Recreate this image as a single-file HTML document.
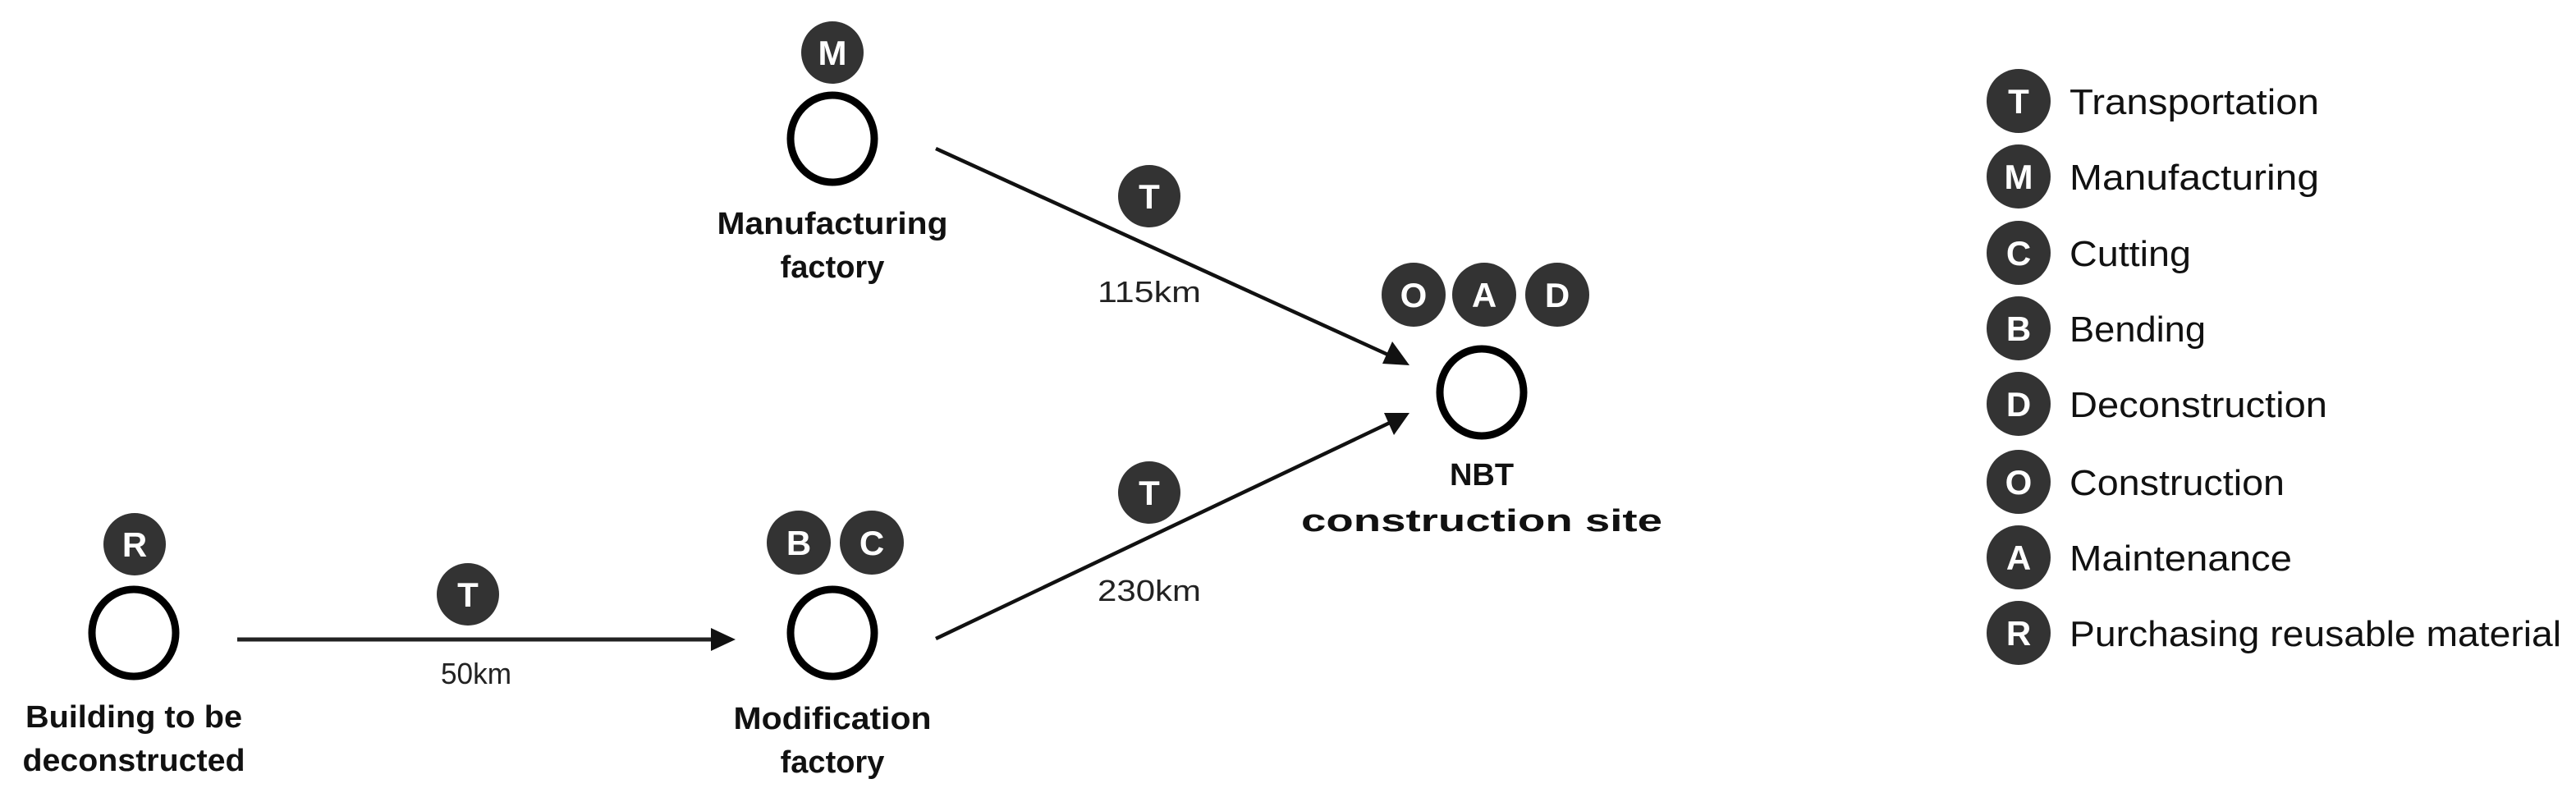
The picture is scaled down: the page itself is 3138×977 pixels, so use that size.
<!DOCTYPE html>
<html><head><meta charset="utf-8"><style>
html,body{margin:0;padding:0;background:#fff;}
svg{display:block;}
.b{fill:#333;}
.bt{fill:#fff;font-family:"Liberation Sans",sans-serif;font-weight:bold;font-size:42px;text-anchor:middle;}
.lab{font-family:"Liberation Sans",sans-serif;font-weight:bold;font-size:38px;text-anchor:middle;fill:#111;}
.km{font-family:"Liberation Sans",sans-serif;font-size:36px;text-anchor:middle;fill:#222;}
.lg{font-family:"Liberation Sans",sans-serif;font-size:44px;fill:#111;}
.node{fill:none;stroke:#000;stroke-width:9;}
</style></head><body>
<svg width="3138" height="977" viewBox="0 0 3138 977" xmlns="http://www.w3.org/2000/svg">
<!-- Building -->
<circle class="b" cx="164" cy="663" r="38"/><text class="bt" x="164" y="678">R</text>
<ellipse class="node" cx="163" cy="771" rx="51" ry="53"/>
<text class="lab" x="163" y="886" textLength="264" lengthAdjust="spacingAndGlyphs">Building to be</text>
<text class="lab" x="163" y="939" textLength="271" lengthAdjust="spacingAndGlyphs">deconstructed</text>
<!-- arrow 1 -->
<line x1="289" y1="779" x2="872" y2="779" stroke="#222" stroke-width="5"/>
<polygon points="896,779 866,765 866,793" fill="#111"/>
<circle class="b" cx="570" cy="724" r="38"/><text class="bt" x="570" y="739">T</text>
<text class="km" x="580" y="833" textLength="86" lengthAdjust="spacingAndGlyphs">50km</text>
<!-- Modification -->
<circle class="b" cx="973" cy="661" r="39"/><text class="bt" x="973" y="676">B</text>
<circle class="b" cx="1062" cy="661" r="39"/><text class="bt" x="1062" y="676">C</text>
<ellipse class="node" cx="1014" cy="771" rx="51" ry="53"/>
<text class="lab" x="1014" y="888" textLength="241" lengthAdjust="spacingAndGlyphs">Modification</text>
<text class="lab" x="1014" y="941">factory</text>
<!-- Manufacturing -->
<circle class="b" cx="1014" cy="64" r="38"/><text class="bt" x="1014" y="79">M</text>
<ellipse class="node" cx="1014" cy="169" rx="51" ry="53"/>
<text class="lab" x="1014" y="285" textLength="281" lengthAdjust="spacingAndGlyphs">Manufacturing</text>
<text class="lab" x="1014" y="338">factory</text>
<!-- arrow top -->
<line x1="1140" y1="181" x2="1695" y2="434" stroke="#111" stroke-width="4.5"/>
<polygon points="1717,445 1684,443 1696,416" fill="#111"/>
<circle class="b" cx="1400" cy="239" r="38"/><text class="bt" x="1400" y="254">T</text>
<text class="km" x="1400" y="368" textLength="126" lengthAdjust="spacingAndGlyphs">115km</text>
<!-- arrow bottom -->
<line x1="1140" y1="778" x2="1695" y2="514" stroke="#111" stroke-width="4.5"/>
<polygon points="1717,503 1698,530 1686,503" fill="#111"/>
<circle class="b" cx="1400" cy="600" r="38"/><text class="bt" x="1400" y="615">T</text>
<text class="km" x="1400" y="732" textLength="126" lengthAdjust="spacingAndGlyphs">230km</text>
<!-- NBT -->
<circle class="b" cx="1722" cy="359" r="39"/><text class="bt" x="1722" y="374">O</text>
<circle class="b" cx="1808" cy="359" r="39"/><text class="bt" x="1808" y="374">A</text>
<circle class="b" cx="1897" cy="359" r="39"/><text class="bt" x="1897" y="374">D</text>
<ellipse class="node" cx="1805" cy="478" rx="51" ry="53"/>
<text class="lab" x="1805" y="591">NBT</text>
<text class="lab" x="1805" y="647" textLength="440" lengthAdjust="spacingAndGlyphs">construction site</text>
<!-- legend -->
<g>
<circle class="b" cx="2459" cy="123" r="39"/><text class="bt" x="2459" y="138">T</text>
<text class="lg" x="2521" y="139" textLength="304" lengthAdjust="spacingAndGlyphs">Transportation</text>
<circle class="b" cx="2459" cy="215" r="39"/><text class="bt" x="2459" y="230">M</text>
<text class="lg" x="2521" y="231" textLength="304" lengthAdjust="spacingAndGlyphs">Manufacturing</text>
<circle class="b" cx="2459" cy="308" r="39"/><text class="bt" x="2459" y="323">C</text>
<text class="lg" x="2521" y="324" textLength="148" lengthAdjust="spacingAndGlyphs">Cutting</text>
<circle class="b" cx="2459" cy="400" r="39"/><text class="bt" x="2459" y="415">B</text>
<text class="lg" x="2521" y="416" textLength="166" lengthAdjust="spacingAndGlyphs">Bending</text>
<circle class="b" cx="2459" cy="492" r="39"/><text class="bt" x="2459" y="507">D</text>
<text class="lg" x="2521" y="508" textLength="314" lengthAdjust="spacingAndGlyphs">Deconstruction</text>
<circle class="b" cx="2459" cy="587" r="39"/><text class="bt" x="2459" y="602">O</text>
<text class="lg" x="2521" y="603" textLength="262" lengthAdjust="spacingAndGlyphs">Construction</text>
<circle class="b" cx="2459" cy="679" r="39"/><text class="bt" x="2459" y="694">A</text>
<text class="lg" x="2521" y="695" textLength="271" lengthAdjust="spacingAndGlyphs">Maintenance</text>
<circle class="b" cx="2459" cy="771" r="39"/><text class="bt" x="2459" y="786">R</text>
<text class="lg" x="2521" y="787" textLength="599" lengthAdjust="spacingAndGlyphs">Purchasing reusable material</text>
</g>
</svg>
</body></html>
